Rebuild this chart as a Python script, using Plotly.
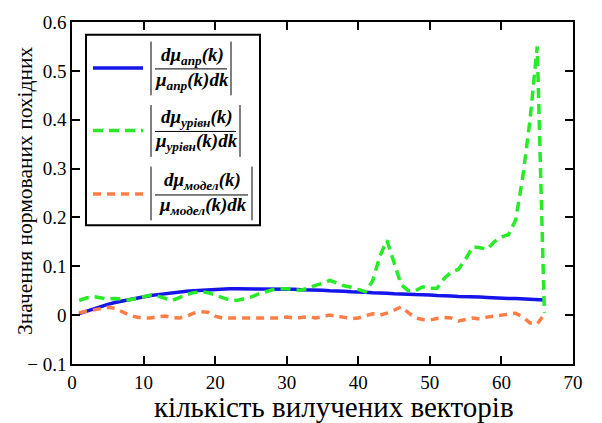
import plotly.graph_objects as go

# ---- data ----
k_values = list(range(1, 67))

mu_apr = [0.003, 0.008, 0.013, 0.018, 0.022, 0.026, 0.029, 0.032, 0.035, 0.038,
          0.040, 0.042, 0.044, 0.046, 0.048, 0.049, 0.050, 0.051, 0.052, 0.053,
          0.053, 0.054, 0.054, 0.054, 0.054, 0.054, 0.054, 0.054, 0.053, 0.053,
          0.053, 0.052, 0.052, 0.051, 0.051, 0.050, 0.050, 0.049, 0.048, 0.048,
          0.047, 0.046, 0.046, 0.045, 0.044, 0.044, 0.043, 0.042, 0.042, 0.041,
          0.040, 0.040, 0.039, 0.038, 0.038, 0.037, 0.037, 0.036, 0.035, 0.035,
          0.034, 0.034, 0.033, 0.033, 0.032, 0.031]

mu_rivn = [0.030, 0.035, 0.038, 0.036, 0.033, 0.034, 0.032, 0.031, 0.034, 0.038,
           0.041, 0.039, 0.034, 0.030, 0.036, 0.042, 0.046, 0.048, 0.046, 0.041,
           0.036, 0.031, 0.030, 0.033, 0.037, 0.043, 0.048, 0.052, 0.054, 0.054,
           0.052, 0.051, 0.055, 0.061, 0.065, 0.071, 0.066, 0.060, 0.057, 0.052,
           0.048, 0.070, 0.120, 0.153, 0.105, 0.062, 0.050, 0.050, 0.058, 0.055,
           0.055, 0.075, 0.088, 0.094, 0.115, 0.140, 0.138, 0.135, 0.150, 0.160,
           0.165, 0.195, 0.285, 0.400, 0.550, 0.005]

mu_model = [0.005, 0.008, 0.011, 0.014, 0.016, 0.014, 0.006, 0.000, -0.004, -0.006,
            -0.006, -0.003, -0.002, -0.005, -0.006, -0.002, 0.004, 0.007, 0.006, -0.002,
            -0.006, -0.006, -0.005, -0.006, -0.006, -0.005, -0.006, -0.005, -0.006, -0.004,
            -0.006, -0.005, -0.003, -0.006, -0.003, 0.000, -0.002, -0.004, -0.007, -0.006,
            -0.002, 0.003, 0.000, 0.004, 0.010, 0.017, 0.005, -0.006, -0.009, -0.010,
            -0.007, -0.005, -0.006, -0.012, -0.009, -0.006, -0.008, -0.004, -0.002, 0.000,
            0.003, 0.004, -0.004, -0.016, -0.018, 0.002]

x_ticks = [0, 10, 20, 30, 40, 50, 60, 70]
x_tick_labels = ["0", "10", "20", "30", "40", "50", "60", "70"]
y_ticks = [-0.1, 0, 0.1, 0.2, 0.3, 0.4, 0.5, 0.6]
y_tick_labels = ["\u2212 0.1", "0", "0.1", "0.2", "0.3", "0.4", "0.5", "0.6"]

legend_subs = ["апр", "урівн", "модел"]
x_title = "кількість вилучених векторів"
y_title = "Значення нормованих похідних"

# ---- layout geometry ----
W, H = 602, 423
L, R, T, B = 72, 573, 14, 364
SERIF = "Times New Roman, Liberation Serif, DejaVu Serif, serif"

def px(x):
    return (x - L) / (R - L)

def py(y):
    return (B - y) / (B - T)

BLUE = "rgb(20,20,235)"
GREEN = "rgb(40,235,40)"
ORANGE = "rgb(255,125,70)"

fig = go.Figure()
fig.add_trace(go.Scatter(x=k_values, y=mu_apr, mode="lines",
                         line=dict(color=BLUE, width=3.5)))
fig.add_trace(go.Scatter(x=k_values, y=mu_rivn, mode="lines",
                         line=dict(color=GREEN, width=3.5, dash="10px,6px")))
fig.add_trace(go.Scatter(x=k_values, y=mu_model, mode="lines",
                         line=dict(color=ORANGE, width=3.5, dash="8px,6px")))

axis_common = dict(showline=True, linecolor="black", linewidth=1.5, mirror="allticks",
                   ticks="inside", ticklen=8, tickwidth=1.5, tickcolor="black",
                   showgrid=False, zeroline=False,
                   tickfont=dict(family=SERIF, size=19, color="black"))

fig.update_layout(
    width=W, height=H,
    margin=dict(l=L, r=W - R, t=T, b=H - B),
    plot_bgcolor="white", paper_bgcolor="white",
    showlegend=False,
    font=dict(family=SERIF, color="black"),
    xaxis=dict(range=[0, 70], tickvals=x_ticks, ticktext=x_tick_labels, **axis_common),
    yaxis=dict(range=[-0.1, 0.6], tickvals=y_ticks, ticktext=y_tick_labels, **axis_common),
)

shapes = []
annotations = []

# legend box
shapes.append(dict(type="rect", xref="paper", yref="paper",
                   x0=px(86), x1=px(260), y0=py(222), y1=py(27),
                   line=dict(color="black", width=2), fillcolor="white", layer="above"))

legend_rows = [
    dict(color=BLUE, dash="solid", ly=61, num_y=49, den_y=74, top=34, bot=89, right=231, sub=legend_subs[0]),
    dict(color=GREEN, dash="10px,6px", ly=125, num_y=112, den_y=137, top=99, bot=152, right=240, sub=legend_subs[1]),
    dict(color=ORANGE, dash="8px,6px", ly=190, num_y=177, den_y=202, top=162, bot=217, right=252, sub=legend_subs[2]),
]

for row in legend_rows:
    shapes.append(dict(type="line", xref="paper", yref="paper",
                       x0=px(93), x1=px(143), y0=py(row["ly"]), y1=py(row["ly"]),
                       line=dict(color=row["color"], width=3.5, dash=row["dash"]), layer="above"))
    left_bar = 151
    for xb in (left_bar, row["right"]):
        shapes.append(dict(type="line", xref="paper", yref="paper",
                           x0=px(xb), x1=px(xb), y0=py(row["top"]), y1=py(row["bot"]),
                           line=dict(color="black", width=1), layer="above"))
    shapes.append(dict(type="line", xref="paper", yref="paper",
                       x0=px(left_bar + 4), x1=px(row["right"] - 4),
                       y0=py(row["ly"] + 1), y1=py(row["ly"] + 1),
                       line=dict(color="black", width=1), layer="above"))
    cx = (left_bar + row["right"]) / 2 + 1
    sub = row["sub"]
    annotations.append(dict(xref="paper", yref="paper", x=px(cx), y=py(row["num_y"]),
                            text=f"<b><i>dμ<sub>{sub}</sub>(k)</i></b>", showarrow=False,
                            xanchor="center", yanchor="middle",
                            font=dict(family=SERIF, size=19, color="black")))
    annotations.append(dict(xref="paper", yref="paper", x=px(cx), y=py(row["den_y"]),
                            text=f"<b><i>μ<sub>{sub}</sub>(k)dk</i></b>", showarrow=False,
                            xanchor="center", yanchor="middle",
                            font=dict(family=SERIF, size=19, color="black")))

# axis titles
annotations.append(dict(xref="paper", yref="paper", x=px(334), y=py(408),
                        text=x_title, showarrow=False, xanchor="center", yanchor="middle",
                        font=dict(family=SERIF, size=29, color="black")))
annotations.append(dict(xref="paper", yref="paper", x=px(25), y=py(187),
                        text=y_title, showarrow=False, xanchor="center", yanchor="middle",
                        textangle=-90,
                        font=dict(family=SERIF, size=21.5, color="black")))

fig.update_layout(shapes=shapes, annotations=annotations)
fig.write_html("out.html", config={"displayModeBar": False},
               post_script="document.body.style.margin='0';")
